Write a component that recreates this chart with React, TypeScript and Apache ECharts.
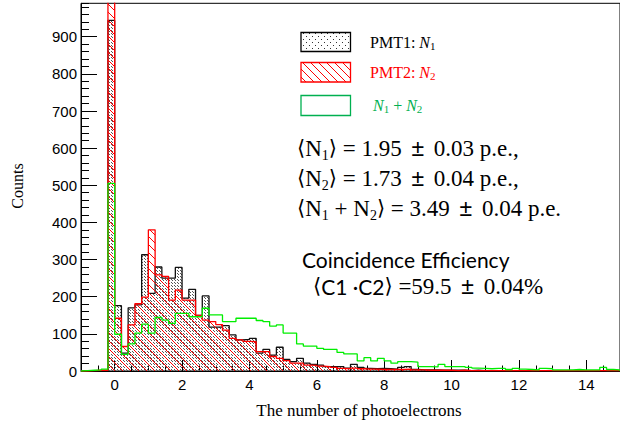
import { useEffect, useRef } from 'react';
import * as echarts from 'echarts';

// Histogram binning: 80 bins of 0.2 p.e. starting at -1
const BIN_START = -1;
const BIN_WIDTH = 0.2;
const X_MIN = -1;
const X_MAX = 15;
const Y_MAX = 990;

// PMT1 photoelectron counts per bin
const pmt1Counts = [
  0, 0, 1, 1, 944, 176, 48, 170, 178, 313,
  209, 280, 250, 250, 279, 196, 220, 150, 202, 118,
  118, 122, 97, 84, 85, 88, 48, 58, 43, 64,
  31, 25, 34, 21, 18, 16, 12, 12, 12, 8,
  18, 10, 7, 6, 7, 6, 5, 10, 12, 4,
  3, 3, 3, 2, 2, 2, 2, 1, 2, 1,
  1, 1, 1, 1, 1, 1, 0, 1, 1, 0,
  1, 0, 0, 1, 0, 0, 1, 0, 0, 0,
];

// PMT2 photoelectron counts per bin
const pmt2Counts = [
  0, 1, 2, 2, 1150, 142, 66, 124, 181, 199,
  380, 259, 255, 191, 218, 191, 191, 150, 137, 133,
  125, 110, 88, 84, 80, 79, 52, 52, 39, 34,
  28, 21, 21, 16, 15, 13, 12, 10, 7, 6,
  8, 6, 5, 5, 4, 4, 4, 4, 5, 3,
  3, 2, 2, 2, 2, 1, 2, 1, 1, 1,
  1, 1, 1, 1, 1, 1, 1, 1, 1, 1,
  1, 1, 1, 1, 1, 1, 1, 1, 1, 1,
];

// N1 + N2 counts per bin
const sumCounts = [
  1, 2, 3, 5, 505, 99, 45, 73, 102, 126,
  102, 144, 137, 128, 155, 155, 146, 146, 169, 151,
  151, 133, 133, 142, 142, 142, 136, 133, 121, 124,
  102, 102, 73, 67, 67, 61, 58, 58, 50, 46,
  46, 27, 36, 27, 34, 27, 21, 25, 25, 24,
  12, 12, 11, 18, 12, 12, 12, 10, 8, 7,
  6, 7, 7, 4, 7, 5, 4, 3, 7, 6,
  3, 3, 3, 4, 3, 3, 3, 10, 4, 3,
];

const SANS = "'Liberation Sans', Arial, Helvetica, sans-serif";
const SERIF = "'Liberation Serif', 'Times New Roman', serif";
const BRACKET = "'DejaVu Sans', 'DejaVu Serif', serif";
const CALI = "Lato, 'Open Sans', sans-serif";

// Outline of a histogram as a closed step path [edge, count]
function stepData(counts: number[]): number[][] {
  const pts: number[][] = [[BIN_START, 0]];
  counts.forEach((c, i) => pts.push([BIN_START + i * BIN_WIDTH, c]));
  const end = BIN_START + counts.length * BIN_WIDTH;
  pts.push([end, counts[counts.length - 1]]);
  pts.push([end, 0]);
  return pts;
}

function dotPattern(step: number, color: string) {
  const c = document.createElement('canvas');
  c.width = step;
  c.height = step;
  const ctx = c.getContext('2d')!;
  ctx.fillStyle = color;
  ctx.fillRect(0, 0, 1, 1);
  ctx.fillRect(Math.floor(step / 2), Math.floor(step / 2), 1, 1);
  return { image: c, repeat: 'repeat', imageWidth: step, imageHeight: step };
}

function hatchPattern(step: number, color: string) {
  const c = document.createElement('canvas');
  c.width = step;
  c.height = step;
  const ctx = c.getContext('2d')!;
  ctx.strokeStyle = color;
  ctx.lineWidth = 1;
  for (const o of [-step, 0, step]) {
    ctx.beginPath();
    ctx.moveTo(o - 1, -1);
    ctx.lineTo(o + step + 1, step + 1);
    ctx.stroke();
  }
  return { image: c, repeat: 'repeat', imageWidth: step, imageHeight: step };
}

// rich-text token style from a CSS font shorthand
const tok = (font: string, color: string, lineHeight: number, extra: any = {}) => ({
  font,
  color,
  fill: color,
  lineHeight,
  ...extra,
});

export default function App() {
  const ref = useRef<HTMLDivElement>(null);

  useEffect(() => {
    if (!ref.current) return;
    const chart = echarts.init(ref.current, null, { renderer: 'svg' });

    const dots = dotPattern(3, '#555');
    const legendDots = dotPattern(6, '#333');
    const hatch = hatchPattern(8, '#ff0000');

    const axisFont = { color: '#000', fontSize: 15, fontFamily: SANS };

    const statRich = () => ({
      b: tok(`23px ${SERIF}`, '#000', 28),
      br: tok(`21px ${BRACKET}`, '#000', 28),
      s: tok(`14px ${SERIF}`, '#000', 16, { verticalAlign: 'bottom' }),
      pm: tok(`23px ${SANS}`, '#000', 28, { padding: [0, 4, 0, 4] }),
      c: tok(`21px ${CALI}`, '#000', 28),
    });

    const legendRich = (color: string) => ({
      a: tok(`16px ${SERIF}`, color, 18),
      i: tok(`italic 16px ${SERIF}`, color, 18),
      s: tok(`11px ${SERIF}`, color, 10, { verticalAlign: 'bottom' }),
    });

    const option: any = {
      animation: false,
      backgroundColor: '#fff',
      grid: {
        left: 81,
        right: -3,
        top: 3.3,
        bottom: 53,
        show: true,
        borderColor: '#000',
        borderWidth: 1,
        backgroundColor: 'transparent',
      },
      xAxis: [
        {
          type: 'value',
          min: X_MIN,
          max: X_MAX,
          splitNumber: 8,
          position: 'bottom',
          axisLine: { onZero: false, lineStyle: { color: '#000', width: 1 } },
          axisTick: { inside: true, length: 11, lineStyle: { color: '#000', width: 1 } },
          axisLabel: { ...axisFont, margin: 6, showMinLabel: false, showMaxLabel: false },
          splitLine: { show: false },
        },
        {
          type: 'value',
          min: X_MIN,
          max: X_MAX,
          interval: 0.5,
          position: 'bottom',
          axisLine: { show: false, onZero: false },
          axisTick: { inside: true, length: 5.5, lineStyle: { color: '#000', width: 1 } },
          axisLabel: { show: false },
          splitLine: { show: false },
        },
      ],
      yAxis: [
        {
          type: 'value',
          min: 0,
          max: Y_MAX,
          interval: 100,
          position: 'left',
          axisLine: { onZero: false, lineStyle: { color: '#000', width: 1 } },
          axisTick: { inside: true, length: 16, lineStyle: { color: '#000', width: 1 } },
          axisLabel: {
            ...axisFont,
            margin: 4,
            showMaxLabel: false,
            formatter: (v: number) => (v > 950 ? '' : String(v)),
          },
          splitLine: { show: false },
        },
        {
          type: 'value',
          min: 0,
          max: Y_MAX,
          interval: 20,
          position: 'left',
          axisLine: { show: false, onZero: false },
          axisTick: { inside: true, length: 8, lineStyle: { color: '#000', width: 1 } },
          axisLabel: { show: false },
          splitLine: { show: false },
        },
      ],
      series: [
        {
          name: 'PMT1',
          type: 'line',
          step: 'end',
          symbol: 'none',
          data: stepData(pmt1Counts),
          lineStyle: { color: '#111', width: 1.3 },
          areaStyle: { color: dots, opacity: 1 },
          z: 2,
        },
        {
          name: 'PMT2',
          type: 'line',
          step: 'end',
          symbol: 'none',
          data: stepData(pmt2Counts),
          lineStyle: { color: '#ff0000', width: 1.3 },
          areaStyle: { color: hatch, opacity: 1 },
          z: 3,
        },
        {
          name: 'N1+N2',
          type: 'line',
          step: 'end',
          symbol: 'none',
          data: stepData(sumCounts),
          lineStyle: { color: '#00ee00', width: 1.3 },
          z: 4,
        },
      ],
      graphic: [
        // legend boxes
        {
          type: 'rect',
          shape: { x: 301, y: 32.5, width: 49.5, height: 19 },
          style: { fill: legendDots, stroke: '#000', lineWidth: 1.3 },
          z: 10,
        },
        {
          type: 'rect',
          shape: { x: 301, y: 62.5, width: 49.5, height: 19.5 },
          style: { fill: hatch, stroke: '#ff0000', lineWidth: 1.3 },
          z: 10,
        },
        {
          type: 'rect',
          shape: { x: 301, y: 95.5, width: 49.5, height: 20 },
          style: { fill: 'transparent', stroke: '#00b050', lineWidth: 1.3 },
          z: 10,
        },
        // legend texts
        {
          type: 'text',
          x: 370,
          y: 42,
          z: 10,
          style: {
            text: '{a|PMT1: }{i|N}{s|1}',
            verticalAlign: 'middle',
            textVerticalAlign: 'middle',
            rich: legendRich('#000'),
          },
        },
        {
          type: 'text',
          x: 370,
          y: 72,
          z: 10,
          style: {
            text: '{a|PMT2: }{i|N}{s|2}',
            verticalAlign: 'middle',
            textVerticalAlign: 'middle',
            rich: legendRich('#ff0000'),
          },
        },
        {
          type: 'text',
          x: 373,
          y: 105.5,
          z: 10,
          style: {
            text: '{i|N}{s|1}{a| + }{i|N}{s|2}',
            verticalAlign: 'middle',
            textVerticalAlign: 'middle',
            rich: legendRich('#00b050'),
          },
        },
        // mean values
        ...[
          { y: 148, text: '{br|⟨}{b|N}{s|1}{br|⟩}{b| = 1.95 }{pm|±}{b| 0.03 p.e.,}' },
          { y: 178, text: '{br|⟨}{b|N}{s|2}{br|⟩}{b| = 1.73 }{pm|±}{b| 0.04 p.e.,}' },
          { y: 208, text: '{br|⟨}{b|N}{s|1}{b| + N}{s|2}{br|⟩}{b| = 3.49 }{pm|±}{b| 0.04 p.e.}' },
        ].map((l) => ({
          type: 'text',
          x: 297,
          y: l.y,
          z: 10,
          style: {
            text: l.text,
            verticalAlign: 'middle',
            textVerticalAlign: 'middle',
            rich: statRich(),
          },
        })),
        {
          type: 'text',
          x: 302,
          y: 259,
          z: 10,
          style: {
            text: 'Coincidence Efficiency',
            font: `21px ${CALI}`,
            fill: '#000',
            verticalAlign: 'middle',
            textVerticalAlign: 'middle',
          },
        },
        {
          type: 'text',
          x: 313,
          y: 286,
          z: 10,
          style: {
            text: '{br|⟨}{c|C1 ·C2}{br|⟩}{b| =59.5 }{pm|±}{b| 0.04%}',
            verticalAlign: 'middle',
            textVerticalAlign: 'middle',
            rich: statRich(),
          },
        },
        // axis titles
        {
          type: 'text',
          x: 359,
          y: 410,
          z: 10,
          style: {
            text: 'The number of photoelectrons',
            font: `17px ${SERIF}`,
            fill: '#000',
            align: 'center',
            textAlign: 'center',
            verticalAlign: 'middle',
            textVerticalAlign: 'middle',
          },
        },
        {
          type: 'text',
          x: 17,
          y: 186,
          rotation: Math.PI / 2,
          z: 10,
          style: {
            text: 'Counts',
            font: `16px ${SERIF}`,
            fill: '#000',
            align: 'center',
            textAlign: 'center',
            verticalAlign: 'middle',
            textVerticalAlign: 'middle',
          },
        },
      ],
    };

    chart.setOption(option);
    return () => chart.dispose();
  }, []);

  return (
    <div
      ref={ref}
      style={{ position: 'fixed', left: 0, top: 0, width: 620, height: 424, background: '#fff' }}
    />
  );
}
